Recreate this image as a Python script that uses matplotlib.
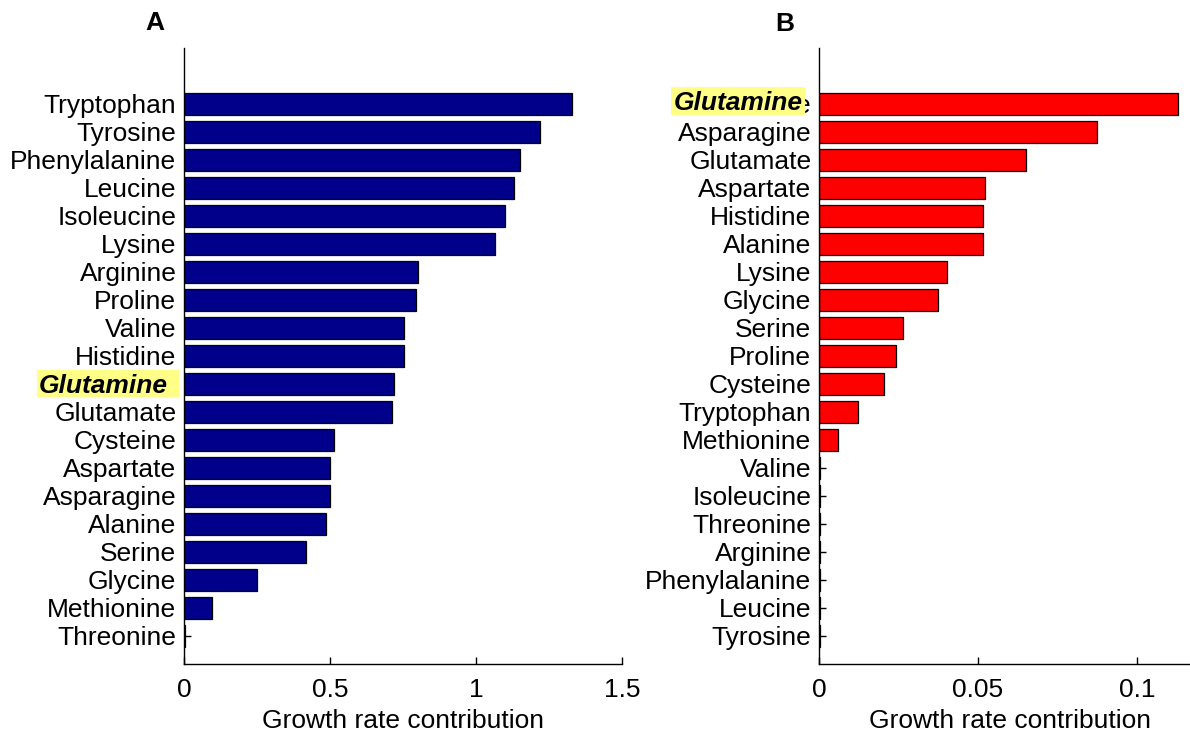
import matplotlib
matplotlib.use("Agg")
import matplotlib.pyplot as plt
import matplotlib.transforms as mtransforms
from matplotlib.patches import Rectangle

plt.rcParams['font.family'] = ['Liberation Sans', 'DejaVu Sans']

# Panel A (top to bottom)
names_a = ["Tryptophan", "Tyrosine", "Phenylalanine", "Leucine", "Isoleucine", "Lysine",
           "Arginine", "Proline", "Valine", "Histidine", "Glutamine", "Glutamate",
           "Cysteine", "Aspartate", "Asparagine", "Alanine", "Serine", "Glycine",
           "Methionine", "Threonine"]
values_a = [1.33, 1.22, 1.15, 1.13, 1.10, 1.066, 0.80, 0.795, 0.754, 0.754, 0.72, 0.714,
            0.513, 0.50, 0.50, 0.487, 0.417, 0.25, 0.097, 0.003]

# Panel B (top to bottom)
names_b = ["Glutamine", "Asparagine", "Glutamate", "Aspartate", "Histidine", "Alanine",
           "Lysine", "Glycine", "Serine", "Proline", "Cysteine", "Tryptophan",
           "Methionine", "Valine", "Isoleucine", "Threonine", "Arginine",
           "Phenylalanine", "Leucine", "Tyrosine"]
values_b = [0.1129, 0.0874, 0.0651, 0.0522, 0.0517, 0.0517, 0.0403, 0.0375, 0.0265,
            0.0241, 0.0203, 0.0123, 0.0059, 0.0002, 0.0002, 0.0002, 0.0002,
            0.0002, 0.0002, 0.0002]

xticks_a = [0, 0.5, 1, 1.5]
xtick_labels_a = ["0", "0.5", "1", "1.5"]
xticks_b = [0, 0.05, 0.1]
xtick_labels_b = ["0", "0.05", "0.1"]

W, H = 1190, 733
fig = plt.figure(figsize=(W / 100, H / 100), dpi=100)

FS = 19
ax_a = fig.add_axes([184 / W, (H - 664) / H, 438 / W, 616.3 / H])
ax_b = fig.add_axes([819 / W, (H - 664) / H, 381.6 / W, 616.3 / H])


def draw(ax, names, values, color, xlim, ticks, ticklabels):
    n = len(names)
    pos = list(range(n, 0, -1))
    ax.barh(pos, values, height=0.8, color=color, edgecolor='black', linewidth=0.9, zorder=2)
    ax.set_ylim(0, n + 2)
    ax.set_xlim(*xlim)
    ax.set_yticks(pos)
    ax.set_yticklabels(names, fontsize=FS)
    ax.set_xticks(ticks)
    ax.set_xticklabels(ticklabels, fontsize=FS)
    ax.set_axisbelow(True)
    for s in ['top', 'right']:
        ax.spines[s].set_visible(False)
    for s in ['left', 'bottom']:
        ax.spines[s].set_linewidth(1.0)
        ax.spines[s].set_color('black')
        ax.spines[s].set_zorder(3)
    ax.tick_params(axis='y', direction='in', length=5, width=1.0, pad=5.5)
    ax.tick_params(axis='x', direction='in', length=5, width=1.0, pad=10)
    ax.set_xlabel("Growth rate contribution", fontsize=FS, labelpad=5)
    return pos


pos_a = draw(ax_a, names_a, values_a, '#00008B', (0, 1.5), xticks_a, xtick_labels_a)
pos_b = draw(ax_b, names_b, values_b, '#FF0000', (0, 0.12), xticks_b, xtick_labels_b)

# Highlighted Glutamine labels
hl = '#FFFF88'
ya = pos_a[names_a.index("Glutamine")]
tr_a = mtransforms.blended_transform_factory(ax_a.transAxes, ax_a.transData)
ax_a.add_patch(Rectangle((-0.3356, ya - 0.48), 0.3242, 0.96, transform=tr_a,
                         facecolor=hl, edgecolor='none', clip_on=False, zorder=5))
ax_a.text(-0.0365, ya, "Glutamine", transform=tr_a, ha='right', va='center_baseline',
          fontsize=FS, fontweight='bold', fontstyle='italic', clip_on=False, zorder=6)

yb = pos_b[names_b.index("Glutamine")]
tr_b = mtransforms.blended_transform_factory(ax_b.transAxes, ax_b.transData)
ax_b.add_patch(Rectangle((-0.3886, yb - 0.4), 0.3510, 1.0, transform=tr_b,
                         facecolor=hl, edgecolor='none', clip_on=False, zorder=5))
ax_b.text(-0.0419, yb + 0.1, "Glutamine", transform=tr_b, ha='right', va='center_baseline',
          fontsize=FS, fontweight='bold', fontstyle='italic', clip_on=False, zorder=6)

fig.text(155 / W, 1 - 23 / H, "A", fontsize=19, fontweight='bold', ha='center', va='center')
fig.text(785 / W, 1 - 24 / H, "B", fontsize=19, fontweight='bold', ha='center', va='center')

fig.savefig("out.png", dpi=100)
